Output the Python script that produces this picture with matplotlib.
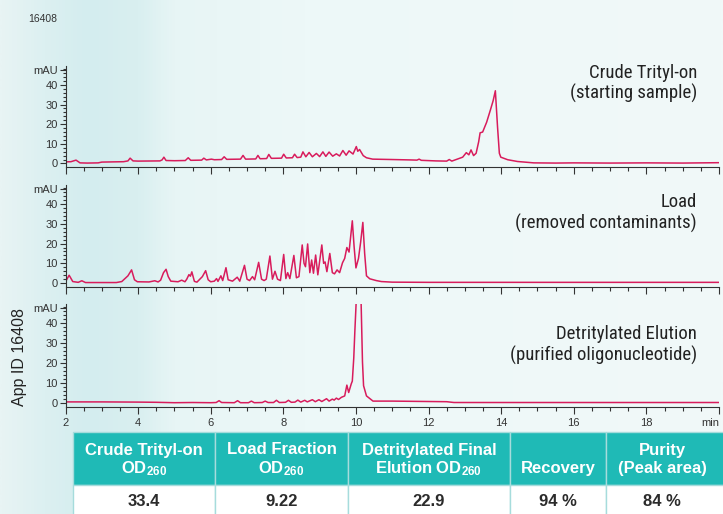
from __future__ import annotations

import matplotlib

matplotlib.use("Agg")

import matplotlib.pyplot as plt
import numpy as np
from matplotlib import font_manager
from matplotlib.colors import LinearSegmentedColormap
from matplotlib.patches import Rectangle
from matplotlib.ticker import MultipleLocator

FIG_W, FIG_H = 723, 514

# retention time (min) and absorbance (mAU)
crude_time = [
    2.0, 2.15, 2.29, 2.4, 2.6, 2.9, 3.0, 3.6, 3.72, 3.78, 3.86, 4.0,
    4.6, 4.66, 4.71, 4.77, 5.0, 5.3, 5.38, 5.45, 5.75, 5.81, 5.88, 6.02,
    6.1, 6.3, 6.37, 6.44, 6.82, 6.89, 6.96, 7.24, 7.3, 7.36, 7.54, 7.6,
    7.67, 7.95, 8.01, 8.08, 8.25, 8.31, 8.38, 8.48, 8.54, 8.62, 8.71, 8.8,
    8.91, 9.0, 9.09, 9.17, 9.26, 9.36, 9.46, 9.55, 9.64, 9.73, 9.81, 9.92,
    10.01, 10.05, 10.1, 10.2, 10.29, 10.46, 11.0, 11.5, 11.68, 11.74, 11.8, 12.2,
    12.5, 12.57, 12.64, 12.94, 13.04, 13.11, 13.17, 13.24, 13.31, 13.38, 13.42, 13.49,
    13.6, 13.7, 13.78, 13.84, 13.9, 13.95, 13.99, 14.18, 14.45, 14.9, 15.5, 16.0,
    17.0, 18.0, 19.0, 20.0,
]
crude_mau = [
    0.8, 0.9, 1.7, 0.3, 0.2, 0.3, 0.7, 0.9, 1.3, 2.7, 1.3, 1.2,
    1.3, 1.8, 3.2, 1.5, 1.4, 1.5, 2.9, 1.6, 1.7, 2.7, 1.8, 2.2,
    1.9, 2.0, 3.4, 2.1, 2.2, 4.1, 2.2, 2.3, 4.1, 2.4, 2.5, 4.6,
    2.6, 2.7, 4.7, 2.8, 2.9, 4.7, 3.0, 3.2, 5.9, 3.4, 5.6, 3.4,
    5.1, 3.5, 5.9, 3.6, 5.8, 3.7, 4.9, 3.8, 6.6, 4.2, 6.4, 4.8,
    8.6, 6.2, 7.1, 4.0, 2.9, 2.2, 2.0, 1.8, 1.7, 2.2, 1.6, 1.3,
    1.2, 2.0, 1.2, 3.2, 5.5, 4.4, 6.9, 4.0, 5.2, 11.0, 15.6, 16.0,
    21.0, 27.0, 32.0, 37.0, 18.6, 5.2, 3.2, 1.9, 1.0, 0.3, 0.2, 0.3,
    0.2, 0.3, 0.2, 0.4,
]

load_time = [
    2.0, 2.1, 2.2, 2.35, 2.45, 2.55, 3.0, 3.4, 3.55, 3.72, 3.82, 3.9,
    3.98, 4.3, 4.46, 4.55, 4.62, 4.7, 4.77, 4.83, 4.9, 5.1, 5.2, 5.29,
    5.34, 5.4, 5.44, 5.48, 5.55, 5.62, 5.77, 5.86, 5.93, 6.0, 6.1, 6.16,
    6.2, 6.28, 6.33, 6.42, 6.48, 6.6, 6.73, 6.8, 6.93, 7.0, 7.07, 7.15,
    7.21, 7.32, 7.4, 7.47, 7.53, 7.63, 7.7, 7.77, 7.84, 7.92, 8.01, 8.07,
    8.12, 8.18, 8.29, 8.36, 8.43, 8.52, 8.57, 8.61, 8.67, 8.73, 8.78, 8.83,
    8.89, 8.95, 9.06, 9.11, 9.15, 9.2, 9.28, 9.35, 9.41, 9.48, 9.55, 9.63,
    9.69, 9.75, 9.81, 9.9, 9.95, 10.0, 10.07, 10.13, 10.19, 10.24, 10.29, 10.38,
    10.56, 10.7, 11.0, 12.0, 14.0, 16.0, 18.0, 20.0,
]
load_mau = [
    0.7, 4.0, 0.8, 0.4, 1.2, 0.3, 0.3, 0.3, 0.8, 3.7, 6.7, 1.7,
    0.7, 0.6, 1.2, 0.6, 1.5, 5.3, 7.0, 3.3, 1.0, 0.7, 1.5, 0.7,
    2.0, 4.3, 3.5, 5.7, 0.9, 0.5, 3.3, 6.3, 1.7, 0.7, 1.0, 2.3,
    0.9, 3.7, 1.3, 7.8, 1.7, 1.0, 3.0, 1.0, 9.0, 2.0, 1.3, 3.3,
    1.7, 10.5, 2.0, 1.3, 2.0, 13.7, 2.0, 6.0, 2.0, 1.3, 14.5, 2.3,
    5.3, 2.3, 14.0, 2.7, 3.3, 19.3, 10.0, 8.3, 19.8, 5.3, 11.7, 5.0,
    14.2, 4.2, 19.3, 10.0, 10.7, 5.8, 15.0, 5.3, 4.7, 6.7, 5.3, 10.3,
    12.5, 18.0, 15.7, 31.5, 18.3, 7.7, 12.5, 20.8, 30.7, 15.0, 3.7, 2.2,
    1.3, 0.8, 0.5, 0.4, 0.4, 0.4, 0.4, 0.4,
]

elution_time = [
    2.0, 3.0, 4.0, 4.5, 5.0, 5.5, 6.0, 6.15, 6.23, 6.3, 6.65, 6.74,
    6.82, 7.04, 7.12, 7.2, 7.42, 7.5, 7.58, 7.73, 7.81, 7.89, 8.06, 8.14,
    8.22, 8.32, 8.4, 8.48, 8.59, 8.66, 8.8, 8.88, 8.98, 9.06, 9.19, 9.26,
    9.35, 9.4, 9.46, 9.52, 9.6, 9.69, 9.75, 9.8, 9.87, 9.9, 9.94, 9.97,
    10.01, 10.09, 10.14, 10.18, 10.21, 10.29, 10.47, 11.0, 11.5, 12.0, 12.5, 12.7,
    14.0, 16.0, 18.0, 20.0,
]
elution_mau = [
    0.6, 0.6, 0.5, 0.4, 0.2, 0.3, 0.2, 0.3, 1.2, 0.3, 0.2, 1.2,
    0.2, 0.2, 1.0, 0.2, 0.3, 1.0, 0.3, 0.3, 1.4, 0.3, 0.4, 1.4,
    0.4, 0.5, 1.5, 0.5, 1.4, 0.6, 1.7, 0.7, 1.7, 0.8, 2.2, 1.0,
    2.0, 1.5, 2.5, 1.8, 2.9, 3.6, 9.0, 5.3, 9.6, 11.0, 22.6, 36.0,
    52.0, 75.0, 52.0, 20.6, 8.7, 3.6, 1.0, 1.0, 0.9, 0.8, 0.7, 0.3,
    0.3, 0.3, 0.3, 0.3,
]

panel_labels = [
    ("Crude Trityl-on", "(starting sample)"),
    ("Load", "(removed contaminants)"),
    ("Detritylated Elution", "(purified oligonucleotide)"),
]

y_ticks = [0, 10, 20, 30, 40]
x_ticks = [2, 4, 6, 8, 10, 12, 14, 16, 18, 20]
x_tick_labels = ["2", "4", "6", "8", "10", "12", "14", "16", "18", "min"]

header_top = ["Crude Trityl-on", "Load Fraction", "Detritylated Final", "", "Purity"]
header_bottom = [
    r"$\mathbf{OD_{260}}$",
    r"$\mathbf{OD_{260}}$",
    r"Elution $\mathbf{OD_{260}}$",
    "Recovery",
    "(Peak area)",
]
table_values = ["33.4", "9.22", "22.9", "94 %", "84 %"]

TRACE_COLOR = "#d81c5c"
AXIS_COLOR = "#333333"
HEADER_COLOR = "#1fbab6"
BORDER_COLOR = "#a6dcdc"


def px_box(left, top, right, bottom):
    return [left / FIG_W, 1 - bottom / FIG_H, (right - left) / FIG_W, (bottom - top) / FIG_H]


def fx(x):
    return x / FIG_W


def fy(y):
    return 1 - y / FIG_H


def _condensed_font():
    # look for any narrow sans face on the system, fall back to the regular one
    wanted = ("Liberation Sans Narrow", "Roboto Condensed", "Open Sans Condensed",
              "DejaVu Sans Condensed", "Noto Sans Condensed")
    for entry in font_manager.fontManager.ttflist:
        if entry.name in wanted and entry.style == "normal" and entry.weight in (400, "normal"):
            return font_manager.FontProperties(fname=entry.fname), True
    for entry in font_manager.fontManager.ttflist:
        if (entry.stretch in ("condensed", "semi-condensed") and entry.style == "normal"
                and entry.weight in (400, "normal")):
            return font_manager.FontProperties(fname=entry.fname), True
    return font_manager.FontProperties(family="Liberation Sans"), False


def _draw_background(fig):
    bg = fig.add_axes([0, 0, 1, 1], zorder=0)
    stops = [
        (0.0, "#e8f4f4"),
        (0.06, "#dcf0f1"),
        (0.12, "#d4edef"),
        (0.19, "#d9eff0"),
        (0.24, "#e7f5f5"),
        (0.42, "#edf8f8"),
        (1.0, "#f1f9f9"),
    ]
    cmap = LinearSegmentedColormap.from_list("bg", stops)
    grad = np.linspace(0, 1, 512)[None, :]
    bg.imshow(grad, cmap=cmap, aspect="auto", extent=[0, 1, 0, 1])
    bg.set_xlim(0, 1)
    bg.set_ylim(0, 1)
    bg.axis("off")


def _draw_panel(fig, box, times, values, show_xlabels):
    ax = fig.add_axes(px_box(*box), zorder=1)
    ax.set_facecolor("none")

    ax.plot(times, values, color=TRACE_COLOR, linewidth=1.1)

    ax.set_xlim(2, 20)
    ax.set_ylim(-1.8, 49.6)

    ax.set_yticks(y_ticks + [47.8], [str(v) for v in y_ticks] + ["mAU"])
    ax.yaxis.set_minor_locator(MultipleLocator(2))
    ax.set_xticks(x_ticks, x_tick_labels if show_xlabels else [])
    ax.xaxis.set_minor_locator(MultipleLocator(0.5))

    if show_xlabels:
        ax.get_xticklabels()[-1].set_horizontalalignment("right")

    for side in ("top", "right"):
        ax.spines[side].set_visible(False)
    for side in ("left", "bottom"):
        ax.spines[side].set_color(AXIS_COLOR)
        ax.spines[side].set_linewidth(0.8)

    ax.tick_params(
        axis="both", which="both", direction="out", color=AXIS_COLOR,
        labelcolor=AXIS_COLOR, labelsize=8, width=0.8,
    )
    ax.tick_params(axis="x", which="major", length=5, pad=3)
    ax.tick_params(axis="x", which="minor", length=3)
    ax.tick_params(axis="y", which="major", length=4, pad=1.5)
    ax.tick_params(axis="y", which="minor", length=2.5)
    return ax


def _draw_table(fig):
    ax = fig.add_axes([0, 0, 1, 1], zorder=2)
    ax.set_xlim(0, FIG_W)
    ax.set_ylim(FIG_H, 0)
    ax.axis("off")

    col_edges = [72.7, 215, 348, 510, 606, 735]
    head_top, head_bot, row_bot = 432, 485, 520

    for i in range(len(table_values)):
        x0, x1 = col_edges[i], col_edges[i + 1]
        ax.add_patch(Rectangle((x0, head_top), x1 - x0, head_bot - head_top,
                               facecolor=HEADER_COLOR, edgecolor=BORDER_COLOR, linewidth=1.0))
        ax.add_patch(Rectangle((x0, head_bot), x1 - x0, row_bot - head_bot,
                               facecolor="white", edgecolor=BORDER_COLOR, linewidth=1.0))
        cx = (x0 + x1) / 2 if i < len(table_values) - 1 else (x0 + 718) / 2
        if header_top[i]:
            ax.text(cx, 450, header_top[i], ha="center", va="center", color="white",
                    fontsize=12, fontweight="bold")
        ax.text(cx, 469, header_bottom[i], ha="center", va="center", color="white",
                fontsize=12, fontweight="bold")
        ax.text(cx, 501, table_values[i], ha="center", va="center", color="#2b2b2b",
                fontsize=12, fontweight="bold")


def main():
    plt.rcParams["font.family"] = ["Liberation Sans", "DejaVu Sans"]
    plt.rcParams["mathtext.fontset"] = "custom"
    plt.rcParams["mathtext.bf"] = "Liberation Sans:bold"
    plt.rcParams["mathtext.rm"] = "Liberation Sans"

    narrow, is_narrow = _condensed_font()
    label_size = 13.5 if is_narrow else 12.2

    fig = plt.figure(figsize=(FIG_W / 100, FIG_H / 100), dpi=100)

    _draw_background(fig)

    boxes = [(65.5, 66, 719, 167), (65.5, 185, 719, 286.7), (65.5, 304, 719, 406.7)]
    traces = [(crude_time, crude_mau), (load_time, load_mau), (elution_time, elution_mau)]
    baselines = [(78, 99), (206.7, 228.3), (339.3, 361)]

    for idx, (box, (t, v)) in enumerate(zip(boxes, traces)):
        _draw_panel(fig, box, t, v, show_xlabels=(idx == 2))
        line1, line2 = panel_labels[idx]
        for text, y in zip((line1, line2), baselines[idx]):
            fig.text(fx(697), fy(y), text, ha="right", va="baseline", fontproperties=narrow,
                     fontsize=label_size, color="#222222")

    fig.text(fx(28), fy(18.5), "16408", ha="left", va="center", fontsize=7.5, color="#333333")
    fig.text(fx(20), fy(356.5), "App ID 16408", ha="center", va="center", rotation=90,
             fontsize=11.5, color="#222222")

    _draw_table(fig)

    fig.savefig("out.png", dpi=100)
    plt.close(fig)


if __name__ == "__main__":
    main()
